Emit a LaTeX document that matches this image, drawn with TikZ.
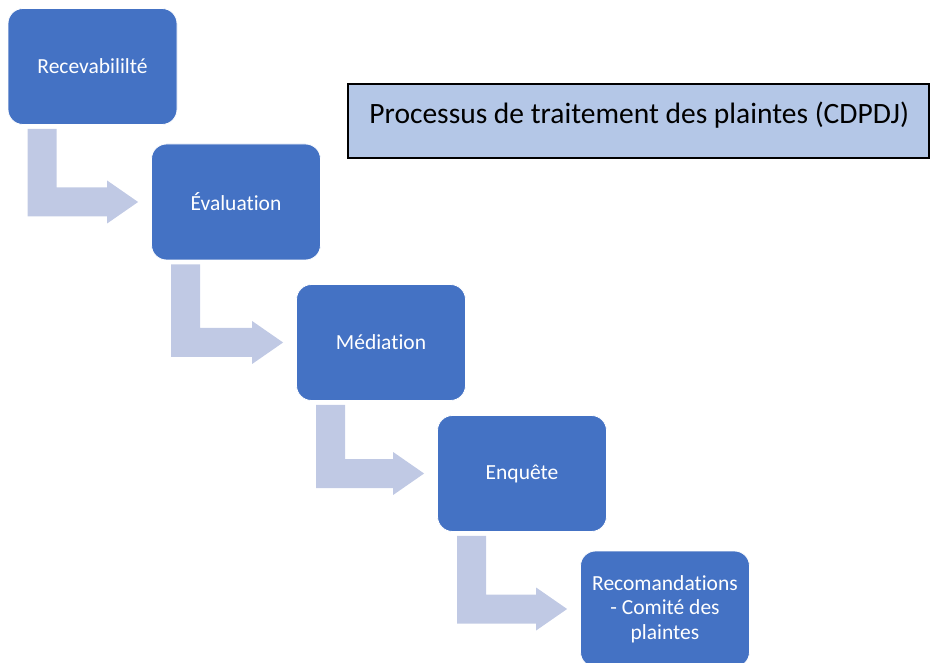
\documentclass[tikz,border=0pt]{standalone}
\usepackage{fontspec}
\setmainfont{Carlito}[Ligatures=NoCommon]
\usetikzlibrary{calc}
\definecolor{boxblue}{HTML}{4472C4}
\definecolor{arrowblue}{RGB}{192,201,228}
\definecolor{titlefill}{HTML}{B4C7E7}
\tikzset{
  stepbox/.style={rectangle, rounded corners=15pt, fill=boxblue, draw=white, line width=0.8pt,
    minimum width=169pt, minimum height=116pt, inner sep=2pt, text=white,
    font=\fontsize{21.5}{24.5}\selectfont, align=center},
  bentarrow/.style={fill=arrowblue, draw=none},
  titlebox/.style={rectangle, fill=titlefill, draw=black, line width=1.5pt,
    minimum width=581pt, minimum height=74pt, inner sep=0pt},
  titletextstyle/.style={anchor=base west, inner sep=0pt, font=\fontsize{29.5}{35}\selectfont}
}
\newcommand{\bendarrow}[2]{%
  \coordinate (tip) at ($(#2.west)+(-13,0)$);
  \coordinate (va) at ($(#1.south west)+(20,4)$);
  \coordinate (vb) at ($(#1.south west)+(49,4)$);
  \fill[bentarrow] (va) -- (vb) -- ($(vb |- tip)+(0,-14.5)$) -- ($(tip)+(-31,-14.5)$)
    -- ($(tip)+(-31,-21.5)$) -- (tip) -- ($(tip)+(-31,21.5)$) -- ($(tip)+(-31,14.5)$)
    -- ($(va |- tip)+(0,14.5)$) -- cycle;
}
\begin{document}
\begin{tikzpicture}[x=1pt, y=-1pt]
  \useasboundingbox (0,0) rectangle (930,663);
  \clip (0,0) rectangle (930,663);
  \node[stepbox] (b1) at (92.5,66.5) {Recevabililté};
  \node[stepbox] (b2) at (236,202) {Évaluation};
  \node[stepbox] (b3) at (381,342.5) {Médiation};
  \node[stepbox] (b4) at (522,473.5) {Enquête};
  \node[stepbox] (b5) at (665,609) {Recomandations\\- Comité des\\plaintes};
  \bendarrow{b1}{b2}
  \bendarrow{b2}{b3}
  \bendarrow{b3}{b4}
  \bendarrow{b4}{b5}
  \node[titlebox] (title) at (638.5,121) {};
  \node[titletextstyle] (titletext) at ($(title.west)+(22,3)$) {Processus de traitement des plaintes (CDPDJ)};
\end{tikzpicture}
\end{document}
